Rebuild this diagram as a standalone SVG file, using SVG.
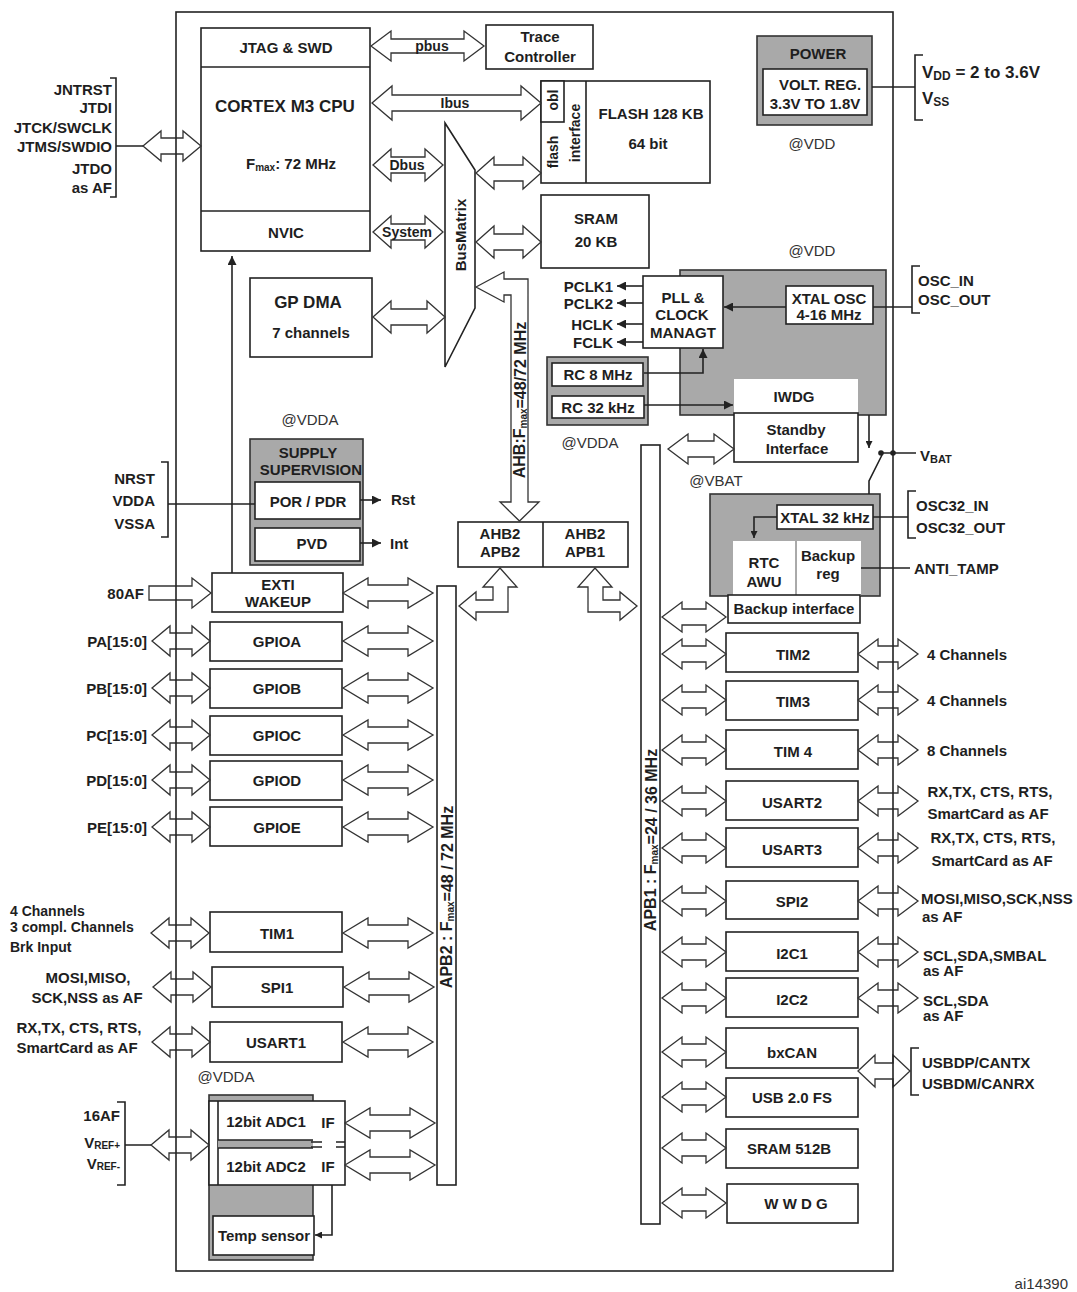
<svg xmlns="http://www.w3.org/2000/svg" width="1077" height="1292" viewBox="0 0 1077 1292">
<defs>
<style>
.box{fill:#fff;stroke:#222;stroke-width:1.6}
.gr{fill:#a9a9a9;stroke:#333;stroke-width:1.6}
.wf{fill:#fff;stroke:none}
.ln{fill:none;stroke:#222;stroke-width:1.6}
.thin{fill:none;stroke:#555;stroke-width:1}
.ar{fill:#fff;stroke:#333;stroke-width:1.3;stroke-linejoin:miter}
text{font-family:"Liberation Sans",Arial,Helvetica,sans-serif;font-weight:bold;font-size:15px;fill:#1e1e1e;text-anchor:middle;dominant-baseline:central}
.s{text-anchor:start}
.e{text-anchor:end}
.n{font-weight:normal;fill:#333}
.sm{font-size:14px}
.bus{font-size:14px}
.bar{font-size:16px}
.big{font-size:17px}
</style>
<marker id="ah" viewBox="0 0 10 10" refX="10" refY="5" markerWidth="9" markerHeight="9" markerUnits="userSpaceOnUse" orient="auto"><path d="M0,0 L10,5 L0,10 z" fill="#222"/></marker>
<marker id="ahs" viewBox="0 0 10 10" refX="10" refY="5" markerWidth="7" markerHeight="7" markerUnits="userSpaceOnUse" orient="auto"><path d="M0,0 L10,5 L0,10 z" fill="#222"/></marker>
<polygon id="aA" class="ar" points="0,0 25,-15 25,-8 65,-8 65,-15 90,0 65,15 65,8 25,8 25,15"/>
<polygon id="aB" class="ar" points="0,0 18,-15 18,-8 40,-8 40,-15 58,0 40,15 40,8 18,8 18,15"/>
<polygon id="aC" class="ar" points="0,0 20,-15 20,-8 44,-8 44,-15 64,0 44,15 44,8 20,8 20,15"/>
<polygon id="aD" class="ar" points="0,0 20,-15 20,-8 40,-8 40,-15 60,0 40,15 40,8 20,8 20,15"/>
</defs>
<rect width="1077" height="1292" fill="#fff"/>

<!-- ===== nodes ===== -->
<g id="cpu">
<rect class="box" x="201" y="28" width="169" height="223"/>
<line class="ln" x1="201" y1="67" x2="370" y2="67"/>
<line class="ln" x1="201" y1="211" x2="370" y2="211"/>
<text x="286" y="47">JTAG &amp; SWD</text>
<text class="big" x="285" y="106">CORTEX M3 CPU</text>
<text x="291" y="163">F<tspan font-size="10" dy="4">max</tspan><tspan dy="-4">:  72 MHz</tspan></text>
<text x="286" y="232">NVIC</text>
</g>

<g id="trace">
<rect class="box" x="486" y="25" width="107" height="44"/>
<text x="540" y="36">Trace</text>
<text x="540" y="56">Controller</text>
</g>

<g id="flash">
<rect class="box" x="541" y="81" width="169" height="102"/>
<line class="ln" x1="586" y1="81" x2="586" y2="183"/>
<rect class="box" x="541" y="81" width="23" height="41"/>
<text class="sm" transform="translate(552.5,100) rotate(-90)">obl</text>
<text class="sm" transform="translate(552.5,152) rotate(-90)">flash</text>
<text class="sm" transform="translate(575,133) rotate(-90)">interface</text>
<text x="651" y="113">FLASH 128 KB</text>
<text x="648" y="143">64 bit</text>
</g>

<g id="sram">
<rect class="box" x="541" y="195" width="108" height="73"/>
<text x="596" y="218">SRAM</text>
<text x="596" y="241">20 KB</text>
</g>

<g id="busmatrix">
<path class="box" d="M445,123 L475,170 L475,308 L445,367 Z"/>
<text transform="translate(460,235) rotate(-90)">BusMatrix</text>
</g>

<g id="gpdma">
<rect class="box" x="250" y="278" width="122" height="79"/>
<text class="big" x="308" y="302">GP DMA</text>
<text x="311" y="332">7 channels</text>
</g>

<g id="power">
<rect class="gr" x="757" y="36" width="115" height="89"/>
<rect class="box" x="763" y="69" width="104" height="46"/>
<text x="818" y="53">POWER</text>
<text x="820" y="84">VOLT. REG.</text>
<text x="815" y="103">3.3V TO 1.8V</text>
<text class="n" x="812" y="143">@VDD</text>
</g>

<g id="clock-domain">
<text class="n" x="812" y="250">@VDD</text>
<rect class="gr" x="680" y="270" width="206" height="145"/>
<rect class="wf" x="734" y="379" width="124" height="34"/>
<text x="794" y="396">IWDG</text>
</g>

<g id="pll">
<rect class="box" x="643" y="276" width="80" height="72"/>
<text x="683" y="297">PLL &amp;</text>
<text x="682" y="314">CLOCK</text>
<text x="683" y="332">MANAGT</text>
</g>

<g id="xtal-osc">
<rect class="box" x="786" y="286" width="87" height="38"/>
<text x="829" y="298">XTAL OSC</text>
<text x="829" y="314">4-16 MHz</text>
</g>

<g id="rc-osc">
<rect class="gr" x="547" y="357" width="101" height="68"/>
<rect class="box" x="552" y="363" width="91" height="23"/>
<rect class="box" x="552" y="396" width="92" height="22"/>
<text x="598" y="374">RC 8 MHz</text>
<text x="598" y="407">RC 32 kHz</text>
<text class="n" x="590" y="442">@VDDA</text>
</g>

<g id="standby">
<rect class="box" x="734" y="413" width="124" height="49"/>
<text x="796" y="429">Standby</text>
<text x="797" y="448">Interface</text>
<text class="n" x="716" y="480">@VBAT</text>
</g>

<g id="rtc-domain">
<rect class="gr" x="710" y="494" width="170" height="102"/>
<rect class="box" x="777" y="505" width="96" height="24"/>
<text x="825" y="517">XTAL 32 kHz</text>
<rect class="wf" x="733" y="541" width="128" height="55"/>
<line class="thin" x1="796" y1="541" x2="796" y2="595"/>
<text x="764" y="562">RTC</text>
<text x="764" y="581">AWU</text>
<text x="828" y="555">Backup</text>
<text x="828" y="573">reg</text>
</g>

<g id="backup-if">
<rect class="box" x="728" y="595" width="132" height="28"/>
<text x="794" y="608">Backup interface</text>
</g>

<g id="supply">
<text class="n" x="310" y="419">@VDDA</text>
<rect class="gr" x="250" y="439" width="113" height="126"/>
<text x="308" y="452">SUPPLY</text>
<text x="311" y="469">SUPERVISION</text>
<rect class="box" x="255" y="482" width="105" height="37"/>
<text x="308" y="501">POR / PDR</text>
<rect class="box" x="255" y="528" width="105" height="33"/>
<text x="312" y="543">PVD</text>
</g>

<g id="bridge">
<rect class="box" x="458" y="522" width="170" height="45"/>
<line class="ln" x1="543" y1="522" x2="543" y2="567"/>
<text x="500" y="533">AHB2</text>
<text x="500" y="551">APB2</text>
<text x="585" y="533">AHB2</text>
<text x="585" y="551">APB1</text>
</g>

<g id="apb2-bar">
<rect class="box" x="437" y="586" width="19" height="599"/>
<text class="bar" transform="translate(446.5,897) rotate(-90)">APB2 : F<tspan font-size="10" dy="3">max</tspan><tspan dy="-3">=48 / 72 MHz</tspan></text>
</g>

<g id="apb1-bar">
<rect class="box" x="641" y="445" width="19" height="779"/>
<text class="bar" transform="translate(650.5,840) rotate(-90)">APB1 : F<tspan font-size="10" dy="3">max</tspan><tspan dy="-3">=24 / 36 MHz</tspan></text>
</g>

<g id="exti"><rect class="box" x="212" y="573" width="131" height="39"/><text x="278" y="584">EXTI</text><text x="278" y="601">WAKEUP</text></g>
<g id="gpioa"><rect class="box" x="210" y="622" width="132" height="39"/><text x="277" y="641">GPIOA</text></g>
<g id="gpiob"><rect class="box" x="210" y="669" width="132" height="39"/><text x="277" y="688">GPIOB</text></g>
<g id="gpioc"><rect class="box" x="210" y="716" width="132" height="39"/><text x="277" y="735">GPIOC</text></g>
<g id="gpiod"><rect class="box" x="210" y="761" width="132" height="39"/><text x="277" y="780">GPIOD</text></g>
<g id="gpioe"><rect class="box" x="210" y="807" width="132" height="39"/><text x="277" y="827">GPIOE</text></g>
<g id="tim1"><rect class="box" x="210" y="912" width="132" height="40"/><text x="277" y="933">TIM1</text></g>
<g id="spi1"><rect class="box" x="212" y="967" width="131" height="40"/><text x="277" y="987">SPI1</text></g>
<g id="usart1"><rect class="box" x="210" y="1022" width="132" height="40"/><text x="276" y="1042">USART1</text></g>

<g id="adc">
<text class="n" x="226" y="1076">@VDDA</text>
<rect class="gr" x="209" y="1095" width="104" height="165"/>
<rect class="box" x="209" y="1101" width="136" height="84"/>
<line class="ln" x1="218" y1="1101" x2="218" y2="1185"/>
<rect x="218" y="1140" width="95" height="8" fill="#a9a9a9"/>
<line class="ln" x1="218" y1="1140" x2="313" y2="1140"/>
<line class="ln" x1="218" y1="1148" x2="313" y2="1148"/>
<path class="ln" d="M311,1142 H322 M311,1147 H322 M336,1142 H345 M336,1147 H345"/>
<text x="266" y="1121">12bit ADC1</text>
<text x="328" y="1122">IF</text>
<text x="266" y="1166">12bit ADC2</text>
<text x="328" y="1166">IF</text>
<rect class="box" x="213" y="1216" width="101" height="39"/>
<text x="264" y="1235">Temp sensor</text>
</g>

<g id="tim2"><rect class="box" x="726" y="633" width="132" height="39"/><text x="793" y="654">TIM2</text></g>
<g id="tim3"><rect class="box" x="726" y="681" width="132" height="39"/><text x="793" y="701">TIM3</text></g>
<g id="tim4"><rect class="box" x="726" y="730" width="132" height="39"/><text x="793" y="751">TIM 4</text></g>
<g id="usart2"><rect class="box" x="726" y="781" width="132" height="39"/><text x="792" y="802">USART2</text></g>
<g id="usart3"><rect class="box" x="726" y="828" width="132" height="39"/><text x="792" y="849">USART3</text></g>
<g id="spi2"><rect class="box" x="726" y="881" width="132" height="38"/><text x="792" y="901">SPI2</text></g>
<g id="i2c1"><rect class="box" x="726" y="932" width="132" height="39"/><text x="792" y="953">I2C1</text></g>
<g id="i2c2"><rect class="box" x="726" y="978" width="132" height="39"/><text x="792" y="999">I2C2</text></g>
<g id="bxcan"><rect class="box" x="726" y="1028" width="132" height="40"/><text x="792" y="1052">bxCAN</text></g>
<g id="usb"><rect class="box" x="726" y="1078" width="132" height="39"/><text x="792" y="1097">USB 2.0 FS</text></g>
<g id="sram512"><rect class="box" x="726" y="1129" width="132" height="39"/><text x="789" y="1148">SRAM 512B</text></g>
<g id="wwdg"><rect class="box" x="727" y="1184" width="131" height="39"/><text x="796" y="1203">W W D G</text></g>

<!-- ===== connectors ===== -->
<g id="connectors">
<polygon class="ar" points="371,46 391,31 391,39 464,39 464,31 484,46 464,61 464,53 391,53 391,61"/>
<text class="bus" x="432" y="46">pbus</text>
<polygon class="ar" points="372,103 392,86 392,95 521,95 521,86 541,103 521,120 521,111 392,111 392,120"/>
<text class="bus" x="455" y="103">Ibus</text>
<polygon class="ar" points="373,165 391,149 391,157 425,157 425,149 443,165 425,181 425,173 391,173 391,181"/>
<text class="bus" x="407" y="165">Dbus</text>
<polygon class="ar" points="373,232 391,216 391,224 425,224 425,216 443,232 425,248 425,240 391,240 391,248"/>
<text class="bus" x="407" y="232">System</text>
<polygon class="ar" points="373,317 391,301 391,309 427,309 427,301 445,317 427,333 427,325 391,325 391,333"/>
<polygon class="ar" points="476,173 494,157 494,165 523,165 523,157 541,173 523,189 523,181 494,181 494,189"/>
<polygon class="ar" points="476,242 494,226 494,234 523,234 523,226 541,242 523,258 523,250 494,250 494,258"/>
<polygon class="ar" points="476,287 504,272 504,279 528,279 528,502 539,502 519.5,521 500,502 511,502 511,295 504,295 504,302"/>
<text class="bar" transform="translate(519.5,400) rotate(-90)">AHB:F<tspan font-size="10" dy="3">max</tspan><tspan dy="-3">=48/72 MHz</tspan></text>
<polygon class="ar" points="500,568 517,587 508,587 508,612 476,612 476,620 459,606 476,592 476,600 493,600 493,587 483,587"/>
<polygon class="ar" points="595,568 612,587 603,587 603,600 620,600 620,592 637,606 620,620 620,612 588,612 588,587 578,587"/>
<path class="ln" d="M110,78 H116 V197 H110 M116,146 H143"/>
<use href="#aB" x="143" y="146"/>
<line class="ln" x1="232" y1="573" x2="232" y2="256" marker-end="url(#ah)"/>
<path class="ln" d="M161,462 H168 V537 H161 M168,504 H255"/>
<line class="ln" x1="360" y1="500" x2="381" y2="500" marker-end="url(#ah)"/>
<line class="ln" x1="360" y1="543" x2="381" y2="543" marker-end="url(#ah)"/>
<line class="ln" x1="643" y1="286" x2="617" y2="286" marker-end="url(#ah)"/>
<line class="ln" x1="643" y1="303" x2="617" y2="303" marker-end="url(#ah)"/>
<line class="ln" x1="643" y1="324" x2="617" y2="324" marker-end="url(#ah)"/>
<line class="ln" x1="643" y1="342" x2="617" y2="342" marker-end="url(#ah)"/>
<line class="ln" x1="786" y1="307" x2="724" y2="307" marker-end="url(#ah)"/>
<path class="ln" d="M644,373 H703 V349" marker-end="url(#ah)"/>
<line class="ln" x1="644" y1="405" x2="733" y2="405" marker-end="url(#ah)"/>
<path class="ln" d="M873,307 H912 M920,266 H912 V313 H920"/>
<path class="ln" d="M872,87 H915 M923,55 H915 V120 H923"/>
<polygon class="ar" points="668,449 688,434 688,441 714,441 714,434 734,449 714,464 714,457 688,457 688,464"/>
<line class="ln" x1="869" y1="415" x2="869" y2="448" marker-end="url(#ahs)"/>
<path class="ln" d="M882,455 L869,481 V494 M881,453 H916"/>
<circle cx="881" cy="453" r="2.8" fill="#222"/>
<circle cx="893" cy="453" r="2.8" fill="#222"/>
<path class="ln" d="M777,517 H754 V538" marker-end="url(#ahs)"/>
<path class="ln" d="M873,517 H908 M916,491 H908 V538 H916 M861,568 H910"/>
<polygon class="ar" points="149,586 192,586 192,578 211,593 192,608 192,600 149,600"/>
<use href="#aA" x="343" y="593"/>
<use href="#aB" x="152" y="641"/><use href="#aA" x="343" y="641"/>
<use href="#aB" x="152" y="688"/><use href="#aA" x="343" y="688"/>
<use href="#aB" x="152" y="735"/><use href="#aA" x="343" y="735"/>
<use href="#aB" x="152" y="780"/><use href="#aA" x="343" y="780"/>
<use href="#aB" x="152" y="827"/><use href="#aA" x="343" y="827"/>
<use href="#aB" x="151" y="933"/><use href="#aA" x="343" y="933"/>
<use href="#aB" x="153" y="987"/><use href="#aA" x="344" y="987"/>
<use href="#aB" x="152" y="1042"/><use href="#aA" x="343" y="1042"/>
<path class="ln" d="M117,1102 H125 V1185 H117 M125,1145 H151"/>
<use href="#aB" x="151" y="1145"/>
<use href="#aA" x="345" y="1123"/>
<use href="#aA" x="345" y="1165"/>
<path class="ln" d="M332,1185 V1235 H315" marker-end="url(#ahs)"/>
<use href="#aC" x="662" y="617"/>
<use href="#aC" x="662" y="654"/><use href="#aD" x="858" y="654"/>
<use href="#aC" x="662" y="700"/><use href="#aD" x="858" y="700"/>
<use href="#aC" x="662" y="750"/><use href="#aD" x="858" y="750"/>
<use href="#aC" x="662" y="801"/><use href="#aD" x="858" y="801"/>
<use href="#aC" x="662" y="848"/><use href="#aD" x="858" y="848"/>
<use href="#aC" x="662" y="901"/><use href="#aD" x="858" y="901"/>
<use href="#aC" x="662" y="952"/><use href="#aD" x="858" y="952"/>
<use href="#aC" x="662" y="998"/><use href="#aD" x="858" y="998"/>
<use href="#aC" x="662" y="1052"/>
<use href="#aC" x="662" y="1097"/>
<use href="#aC" x="662" y="1148"/>
<use href="#aC" x="662" y="1203"/>
<polygon class="ar" points="858,1071 875,1055 875,1063 893,1063 893,1055 910,1071 893,1087 893,1079 875,1079 875,1087"/>
<path class="ln" d="M919,1048 H911 V1095 H919"/>
</g>

<g id="chip-boundary">
<rect x="176" y="12" width="717" height="1259" fill="none" stroke="#222" stroke-width="1.6"/>
</g>

<g id="labels">
<text class="e" x="112" y="89">JNTRST</text>
<text class="e" x="112" y="107">JTDI</text>
<text class="e" x="112" y="127">JTCK/SWCLK</text>
<text class="e" x="112" y="146">JTMS/SWDIO</text>
<text class="e" x="112" y="168">JTDO</text>
<text class="e" x="112" y="187">as AF</text>
<text class="e" x="155" y="478">NRST</text>
<text class="e" x="155" y="500">VDDA</text>
<text class="e" x="155" y="523">VSSA</text>
<text class="s" x="391" y="499">Rst</text>
<text class="s" x="390" y="543">Int</text>
<text class="e" x="613" y="286">PCLK1</text>
<text class="e" x="613" y="303">PCLK2</text>
<text class="e" x="613" y="324">HCLK</text>
<text class="e" x="613" y="342">FCLK</text>
<text class="e" x="144" y="593">80AF</text>
<text class="e" x="147" y="641">PA[15:0]</text>
<text class="e" x="147" y="688">PB[15:0]</text>
<text class="e" x="147" y="735">PC[15:0]</text>
<text class="e" x="147" y="780">PD[15:0]</text>
<text class="e" x="147" y="827">PE[15:0]</text>
<text class="s sm" x="10" y="911">4 Channels</text>
<text class="s sm" x="10" y="927">3 compl. Channels</text>
<text class="s sm" x="10" y="947">Brk Input</text>
<text x="88" y="977">MOSI,MISO,</text>
<text x="87" y="997">SCK,NSS as AF</text>
<text x="79" y="1027">RX,TX, CTS, RTS,</text>
<text x="77" y="1047">SmartCard as AF</text>
<text class="e" x="120" y="1115">16AF</text>
<text class="e" x="120" y="1142">V<tspan font-size="10" dy="3">REF+</tspan></text>
<text class="e" x="120" y="1163">V<tspan font-size="10" dy="3">REF-</tspan></text>
<text class="s big" x="922" y="72">V<tspan font-size="12" dy="4">DD</tspan><tspan dy="-4"> = 2 to 3.6V</tspan></text>
<text class="s big" x="922" y="98">V<tspan font-size="12" dy="4">SS</tspan></text>
<text class="s" x="918" y="280">OSC_IN</text>
<text class="s" x="918" y="299">OSC_OUT</text>
<text class="s" x="920" y="455">V<tspan font-size="11" dy="4">BAT</tspan></text>
<text class="s" x="916" y="505">OSC32_IN</text>
<text class="s" x="916" y="527">OSC32_OUT</text>
<text class="s" x="914" y="568">ANTI_TAMP</text>
<text class="s" x="927" y="654">4 Channels</text>
<text class="s" x="927" y="700">4 Channels</text>
<text class="s" x="927" y="750">8 Channels</text>
<text x="990" y="791">RX,TX, CTS, RTS,</text>
<text x="988" y="813">SmartCard as AF</text>
<text x="993" y="837">RX,TX, CTS, RTS,</text>
<text x="992" y="860">SmartCard as AF</text>
<text class="s" x="921" y="898">MOSI,MISO,SCK,NSS</text>
<text class="s" x="922" y="916">as AF</text>
<text class="s" x="923" y="955">SCL,SDA,SMBAL</text>
<text class="s" x="923" y="970">as AF</text>
<text class="s" x="923" y="1000">SCL,SDA</text>
<text class="s" x="923" y="1015">as AF</text>
<text class="s" x="922" y="1062">USBDP/CANTX</text>
<text class="s" x="922" y="1083">USBDM/CANRX</text>
<text class="e n" x="1068" y="1283">ai14390</text>
</g>
</svg>
